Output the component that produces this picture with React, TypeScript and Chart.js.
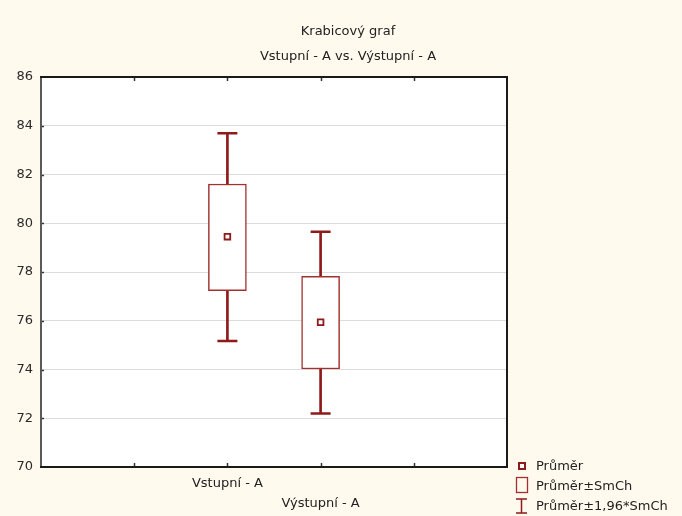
import React, { useEffect, useRef } from 'react';
import { Chart, registerables } from 'chart.js';

Chart.register(...registerables);

// ---- data ----
const slots = ['', '', 'Vstupní - A', 'Výstupní - A', '', ''];
const categories = ['Vstupní - A', 'Výstupní - A'];
const categorySlot = [2, 3];
const means = [79.45, 75.94];
const seLow = [77.23, 74.02];
const seHigh = [81.61, 77.82];
const ciLow = [75.17, 72.19];
const ciHigh = [83.69, 79.65];
const yMin = 70;
const yMax = 86;
const yStep = 2;
const titleLines = ['Krabicový graf', 'Vstupní - A vs. Výstupní - A'];
const legendLabels = ['Průměr', 'Průměr±SmCh', 'Průměr±1,96*SmCh'];

const FONT = '"DejaVu Sans", "Liberation Sans", Arial, sans-serif';
const DARK_RED = '#8E1A1A';
const BOX_RED = '#A33030';
const BG = '#FFF9EE';

function bySlot(values: (number | number[])[]) {
  const arr: any[] = slots.map(() => null);
  values.forEach((v, i) => {
    arr[categorySlot[i]] = v;
  });
  return arr;
}

const framePlugin = {
  id: 'frame',
  beforeDraw(chart: any) {
    const { ctx, chartArea: a } = chart;
    ctx.save();
    ctx.fillStyle = BG;
    ctx.fillRect(0, 0, chart.width, chart.height);
    ctx.fillStyle = '#FFFFFF';
    ctx.fillRect(a.left, a.top, a.right - a.left, a.bottom - a.top);
    ctx.restore();
  },
  afterDatasetsDraw(chart: any) {
    const { ctx, chartArea: a, scales } = chart;
    ctx.save();
    ctx.strokeStyle = '#333';
    ctx.lineWidth = 1.5;
    for (let i = 1; i < slots.length - 1; i++) {
      const x = Math.round(scales.x.getPixelForValue(i)) + 0.5;
      ctx.beginPath();
      ctx.moveTo(x, a.top);
      ctx.lineTo(x, a.top + 4);
      ctx.moveTo(x, a.bottom);
      ctx.lineTo(x, a.bottom - 4);
      ctx.stroke();
    }
    for (let v = yMin + yStep; v < yMax; v += yStep) {
      const y = Math.round(scales.y.getPixelForValue(v)) + 0.5;
      ctx.beginPath();
      ctx.moveTo(a.left, y);
      ctx.lineTo(a.left + 3, y);
      ctx.stroke();
    }
    ctx.lineCap = 'square';
    ctx.strokeStyle = '#5a5a5a';
    ctx.lineWidth = 2;
    ctx.beginPath();
    ctx.moveTo(a.left, a.top);
    ctx.lineTo(a.left, a.bottom);
    ctx.stroke();
    ctx.strokeStyle = '#1a1a1a';
    ctx.beginPath();
    ctx.moveTo(a.left, a.bottom);
    ctx.lineTo(a.right, a.bottom);
    ctx.lineTo(a.right, a.top);
    ctx.lineTo(a.left, a.top);
    ctx.stroke();
    ctx.restore();
  },
  afterDraw(chart: any) {
    const { ctx } = chart;
    ctx.save();
    ctx.fillStyle = '#222';
    ctx.font = `13px ${FONT}`;
    ctx.textAlign = 'center';
    ctx.textBaseline = 'middle';
    ctx.fillText(titleLines[0], 348, 32);
    ctx.fillText(titleLines[1], 348, 57);

    const tx = 536;
    const ys = [466, 486, 506];
    ctx.textAlign = 'left';
    ctx.fillStyle = '#222';
    legendLabels.forEach((t, i) => ctx.fillText(t, tx, ys[i] + 1));
    ctx.strokeStyle = DARK_RED;
    ctx.lineWidth = 2;
    ctx.fillStyle = '#fff';
    ctx.fillRect(519, ys[0] - 3, 6, 6);
    ctx.strokeRect(519, ys[0] - 3, 6, 6);
    ctx.strokeStyle = BOX_RED;
    ctx.lineWidth = 1.3;
    ctx.strokeRect(516.5, ys[1] - 8.5, 11, 15);
    ctx.strokeStyle = DARK_RED;
    ctx.lineWidth = 1.5;
    ctx.beginPath();
    ctx.moveTo(516, ys[2] - 7);
    ctx.lineTo(527, ys[2] - 7);
    ctx.moveTo(521.5, ys[2] - 7);
    ctx.lineTo(521.5, ys[2] + 7);
    ctx.moveTo(516, ys[2] + 7);
    ctx.lineTo(527, ys[2] + 7);
    ctx.stroke();
    ctx.restore();
  },
};

export default function App() {
  const ref = useRef<HTMLCanvasElement | null>(null);

  useEffect(() => {
    if (!ref.current) return;
    Chart.defaults.font.family = FONT;
    const chart = new Chart(ref.current, {
      type: 'bar',
      data: {
        labels: slots,
        datasets: [
          {
            type: 'bar',
            label: 'ci',
            data: bySlot(ciLow.map((l, i) => [l, ciHigh[i]])),
            backgroundColor: DARK_RED,
            borderWidth: 0,
            barThickness: 2,
            grouped: false,
            order: 4,
          } as any,
          {
            type: 'bar',
            label: 'se',
            data: bySlot(seLow.map((l, i) => [l, seHigh[i]])),
            backgroundColor: '#FFFFFF',
            borderColor: BOX_RED,
            borderWidth: 1.5,
            borderSkipped: false,
            barThickness: 38,
            grouped: false,
            order: 3,
          } as any,
          {
            type: 'line',
            label: 'capHigh',
            data: bySlot(ciHigh),
            showLine: false,
            pointStyle: 'line',
            pointRadius: 10,
            pointBorderWidth: 2.5,
            pointBorderColor: DARK_RED,
            order: 2,
          } as any,
          {
            type: 'line',
            label: 'capLow',
            data: bySlot(ciLow),
            showLine: false,
            pointStyle: 'line',
            pointRadius: 10,
            pointBorderWidth: 2.5,
            pointBorderColor: DARK_RED,
            order: 2,
          } as any,
          {
            type: 'line',
            label: 'mean',
            data: bySlot(means),
            showLine: false,
            pointStyle: 'rect',
            pointRadius: 4,
            pointBorderWidth: 1.8,
            pointBorderColor: DARK_RED,
            pointBackgroundColor: '#FFFFFF',
            order: 1,
          } as any,
        ],
      },
      options: {
        animation: false,
        responsive: false,
        maintainAspectRatio: false,
        layout: { padding: { top: 77, right: 175, bottom: 0, left: 0 } },
        plugins: {
          legend: { display: false },
          title: { display: false },
          tooltip: { enabled: false },
        },
        scales: {
          x: {
            type: 'category',
            offset: false,
            grid: { display: false, drawTicks: false },
            border: { display: false },
            ticks: {
              autoSkip: false,
              maxRotation: 0,
              minRotation: 0,
              padding: 7,
              color: '#222',
              font: { size: 13, lineHeight: '20px' } as any,
              callback: (_v: any, i: number) => {
                const k = categorySlot.indexOf(i);
                if (k === 0) return categories[0];
                if (k === 1) return ['', categories[1]];
                return '';
              },
            },
            afterFit: (s: any) => {
              s.height = 49;
            },
          },
          y: {
            type: 'linear',
            min: yMin,
            max: yMax,
            grid: { color: '#DCDCDC', lineWidth: 1, drawTicks: false },
            border: { display: false },
            ticks: {
              stepSize: yStep,
              padding: 8,
              color: '#2a2a2a',
              font: { size: 13 },
            },
            afterFit: (s: any) => {
              s.width = 41;
            },
          },
        },
      },
      plugins: [framePlugin],
    });
    return () => chart.destroy();
  }, []);

  return (
    <div style={{ position: 'fixed', left: 0, top: 0, width: 682, height: 516, background: BG }}>
      <canvas ref={ref} width={682} height={516} style={{ display: 'block', width: 682, height: 516 }} />
    </div>
  );
}
